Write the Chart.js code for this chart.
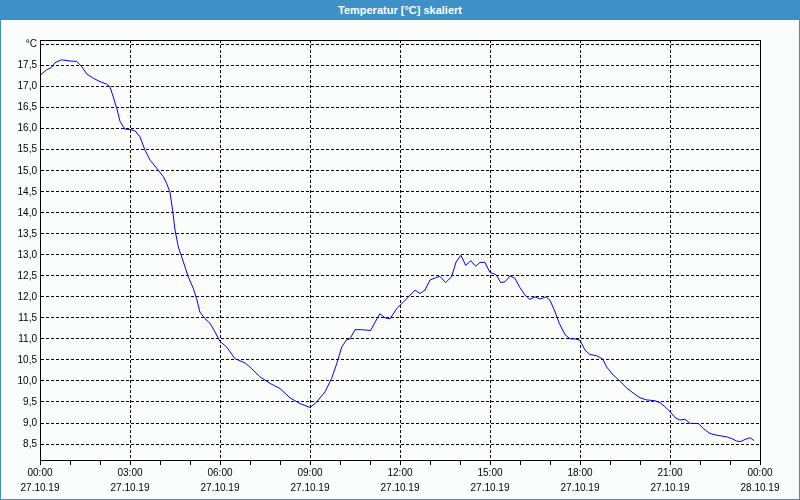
<!DOCTYPE html>
<html>
<head>
<meta charset="utf-8">
<script src="https://cdn.jsdelivr.net/npm/chart.js"></script>
<style>
  html, body { margin: 0; padding: 0; background: #fbfdfc; }
  #frame { position: relative; width: 800px; height: 500px; overflow: hidden; }
  #myChart { position: absolute; left: 0; top: 0; }
  #titlebar {
    position: absolute; left: 0; top: 0; width: 800px; height: 20px;
    background: #3d91c7; color: #fff; text-align: center;
    font: bold 11px "Liberation Sans", sans-serif; line-height: 20px;
  }
  #border {
    position: absolute; left: 0; top: 0; width: 800px; height: 500px;
    box-sizing: border-box; border: 1px solid #3d91c7; border-top: none;
    pointer-events: none;
  }
</style>
</head>
<body>
<div id="frame">
  <canvas id="myChart" width="800" height="500"></canvas>
  <div id="titlebar">Temperatur [°C] skaliert</div>
  <div id="border"></div>
</div>
<script>
// Messzeit in Stunden ab 27.10.19 00:00
const hours = [
  0.0, 0.22, 0.39, 0.5, 0.72, 1.0, 1.22, 1.39, 1.56, 1.78,
  2.0, 2.22, 2.33, 2.44, 2.56, 2.67, 2.83, 3.0, 3.17, 3.33,
  3.5, 3.67, 3.89, 4.11, 4.22, 4.33, 4.42, 4.5, 4.61, 4.78,
  4.94, 5.11, 5.22, 5.33, 5.5, 5.67, 5.83, 6.0, 6.22, 6.5,
  6.83, 7.0, 7.33, 7.67, 8.0, 8.33, 8.67, 9.0, 9.22, 9.5,
  9.72, 9.89, 10.06, 10.22, 10.33, 10.5, 10.72, 11.02, 11.17, 11.33,
  11.5, 11.67, 11.89, 12.17, 12.5, 12.67, 12.83, 13.0, 13.17, 13.33,
  13.52, 13.72, 13.87, 14.03, 14.19, 14.36, 14.52, 14.67, 14.83, 15.0,
  15.2, 15.36, 15.5, 15.67, 15.83, 16.0, 16.17, 16.33, 16.5, 16.67,
  16.87, 17.0, 17.17, 17.31, 17.5, 17.67, 17.83, 18.0, 18.17, 18.33,
  18.56, 18.76, 18.89, 19.11, 19.33, 19.56, 19.78, 20.0, 20.22, 20.5,
  20.67, 20.83, 21.0, 21.17, 21.33, 21.5, 21.67, 21.94, 22.11, 22.33,
  22.56, 22.89, 23.06, 23.22, 23.36, 23.5, 23.67, 23.8
];
const temps = [
  17.27, 17.40, 17.46, 17.57, 17.64, 17.61, 17.60, 17.48, 17.30, 17.20,
  17.12, 17.06, 17.00, 16.76, 16.48, 16.17, 15.99, 15.98, 15.95, 15.81,
  15.49, 15.25, 15.06, 14.86, 14.70, 14.50, 14.06, 13.59, 13.19, 12.83,
  12.48, 12.20, 11.96, 11.64, 11.48, 11.37, 11.17, 10.94, 10.81, 10.53,
  10.43, 10.33, 10.10, 9.94, 9.82, 9.60, 9.46, 9.37, 9.50, 9.74,
  10.06, 10.41, 10.81, 10.98, 11.00, 11.22, 11.22, 11.20, 11.40, 11.60,
  11.50, 11.48, 11.72, 11.92, 12.16, 12.08, 12.16, 12.40, 12.45, 12.49,
  12.34, 12.48, 12.83, 12.99, 12.75, 12.86, 12.73, 12.82, 12.82, 12.58,
  12.53, 12.34, 12.36, 12.50, 12.44, 12.22, 12.04, 11.94, 12.00, 11.95,
  12.00, 11.92, 11.64, 11.37, 11.10, 11.00, 11.00, 10.97, 10.73, 10.63,
  10.60, 10.52, 10.33, 10.14, 10.00, 9.83, 9.71, 9.60, 9.55, 9.53,
  9.48, 9.39, 9.27, 9.13, 9.07, 9.09, 8.99, 8.99, 8.87, 8.75,
  8.71, 8.67, 8.63, 8.57, 8.56, 8.61, 8.65, 8.58
];

// Achsbeschriftungen
const xTimeLabels = ["00:00", "03:00", "06:00", "09:00", "12:00", "15:00", "18:00", "21:00", "00:00"];
const xDateLabels = ["27.10.19", "27.10.19", "27.10.19", "27.10.19", "27.10.19", "27.10.19", "27.10.19", "27.10.19", "28.10.19"];
const yTickValues = [8.5, 9.0, 9.5, 10.0, 10.5, 11.0, 11.5, 12.0, 12.5, 13.0, 13.5, 14.0, 14.5, 15.0, 15.5, 16.0, 16.5, 17.0, 17.5, 18.0];
const yTickLabels = ["8,5", "9,0", "9,5", "10,0", "10,5", "11,0", "11,5", "12,0", "12,5", "13,0", "13,5", "14,0", "14,5", "15,0", "15,5", "16,0", "16,5", "17,0", "17,5", "°C"];

const tickFont = { family: "Liberation Sans", size: 10 };

// Rahmen um die Zeichenfläche
const frameBox = {
  id: "frameBox",
  afterDraw(chart) {
    const { ctx, chartArea: a } = chart;
    ctx.save();
    ctx.strokeStyle = "#000";
    ctx.lineWidth = 1;
    ctx.strokeRect(Math.round(a.left) + 0.5, Math.round(a.top) + 0.5,
      Math.round(a.right - a.left), Math.round(a.bottom - a.top));
    ctx.restore();
  }
};

const canvasBg = {
  id: "canvasBg",
  beforeDraw(chart) {
    const ctx = chart.ctx;
    ctx.save();
    ctx.fillStyle = "#fbfdfc";
    ctx.fillRect(0, 0, chart.width, chart.height);
    ctx.restore();
  }
};

new Chart(document.getElementById("myChart"), {
  type: "line",
  data: {
    datasets: [
      {
        label: "Temperatur",
        data: hours.map((h, i) => ({ x: h, y: temps[i] })),
        borderColor: "#0000ff",
        borderWidth: 1,
        pointRadius: 0,
        tension: 0,
        fill: false,
      },
    ],
  },
  options: {
    responsive: false,
    animation: false,
    devicePixelRatio: 1,
    layout: { padding: { top: 40, right: 40, bottom: 0, left: 0 } },
    plugins: {
      legend: { display: false },
      tooltip: { enabled: false },
      title: { display: false },
    },
    scales: {
      x: {
        type: "linear",
        min: 0,
        max: 24,
        afterBuildTicks: (scale) => {
          const t = [];
          for (let h = 0; h <= 24; h++) t.push({ value: h });
          scale.ticks = t;
        },
        afterFit: (scale) => { scale.height = 40; },
        grid: {
          color: (ctx) => (ctx.tick && ctx.tick.value % 3 === 0 ? "#000" : "rgba(0,0,0,0)"),
          tickColor: "#000",
          tickLength: 5,
          tickBorderDash: [],
          lineWidth: 1,
        },
        border: { display: true, color: "#000", width: 1, dash: [3, 2] },
        ticks: {
          autoSkip: false,
          maxRotation: 0,
          padding: 1,
          color: "#000",
          font: { family: "Liberation Sans", size: 10, lineHeight: 1.5 },
          callback: (value) => (value % 3 === 0 ? [xTimeLabels[value / 3], xDateLabels[value / 3]] : ""),
        },
      },
      y: {
        type: "linear",
        min: 8.12,
        max: 18.11,
        afterBuildTicks: (scale) => {
          scale.ticks = yTickValues.map((v) => ({ value: v }));
        },
        afterFit: (scale) => { scale.width = 40; },
        grid: { color: "#000", lineWidth: 1, drawTicks: false },
        border: { display: true, color: "#000", width: 1, dash: [3, 2] },
        ticks: {
          padding: 3,
          color: "#000",
          font: tickFont,
          callback: (value, index) => yTickLabels[index],
        },
      },
    },
  },
  plugins: [canvasBg, frameBox],
});
</script>
</body>
</html>
